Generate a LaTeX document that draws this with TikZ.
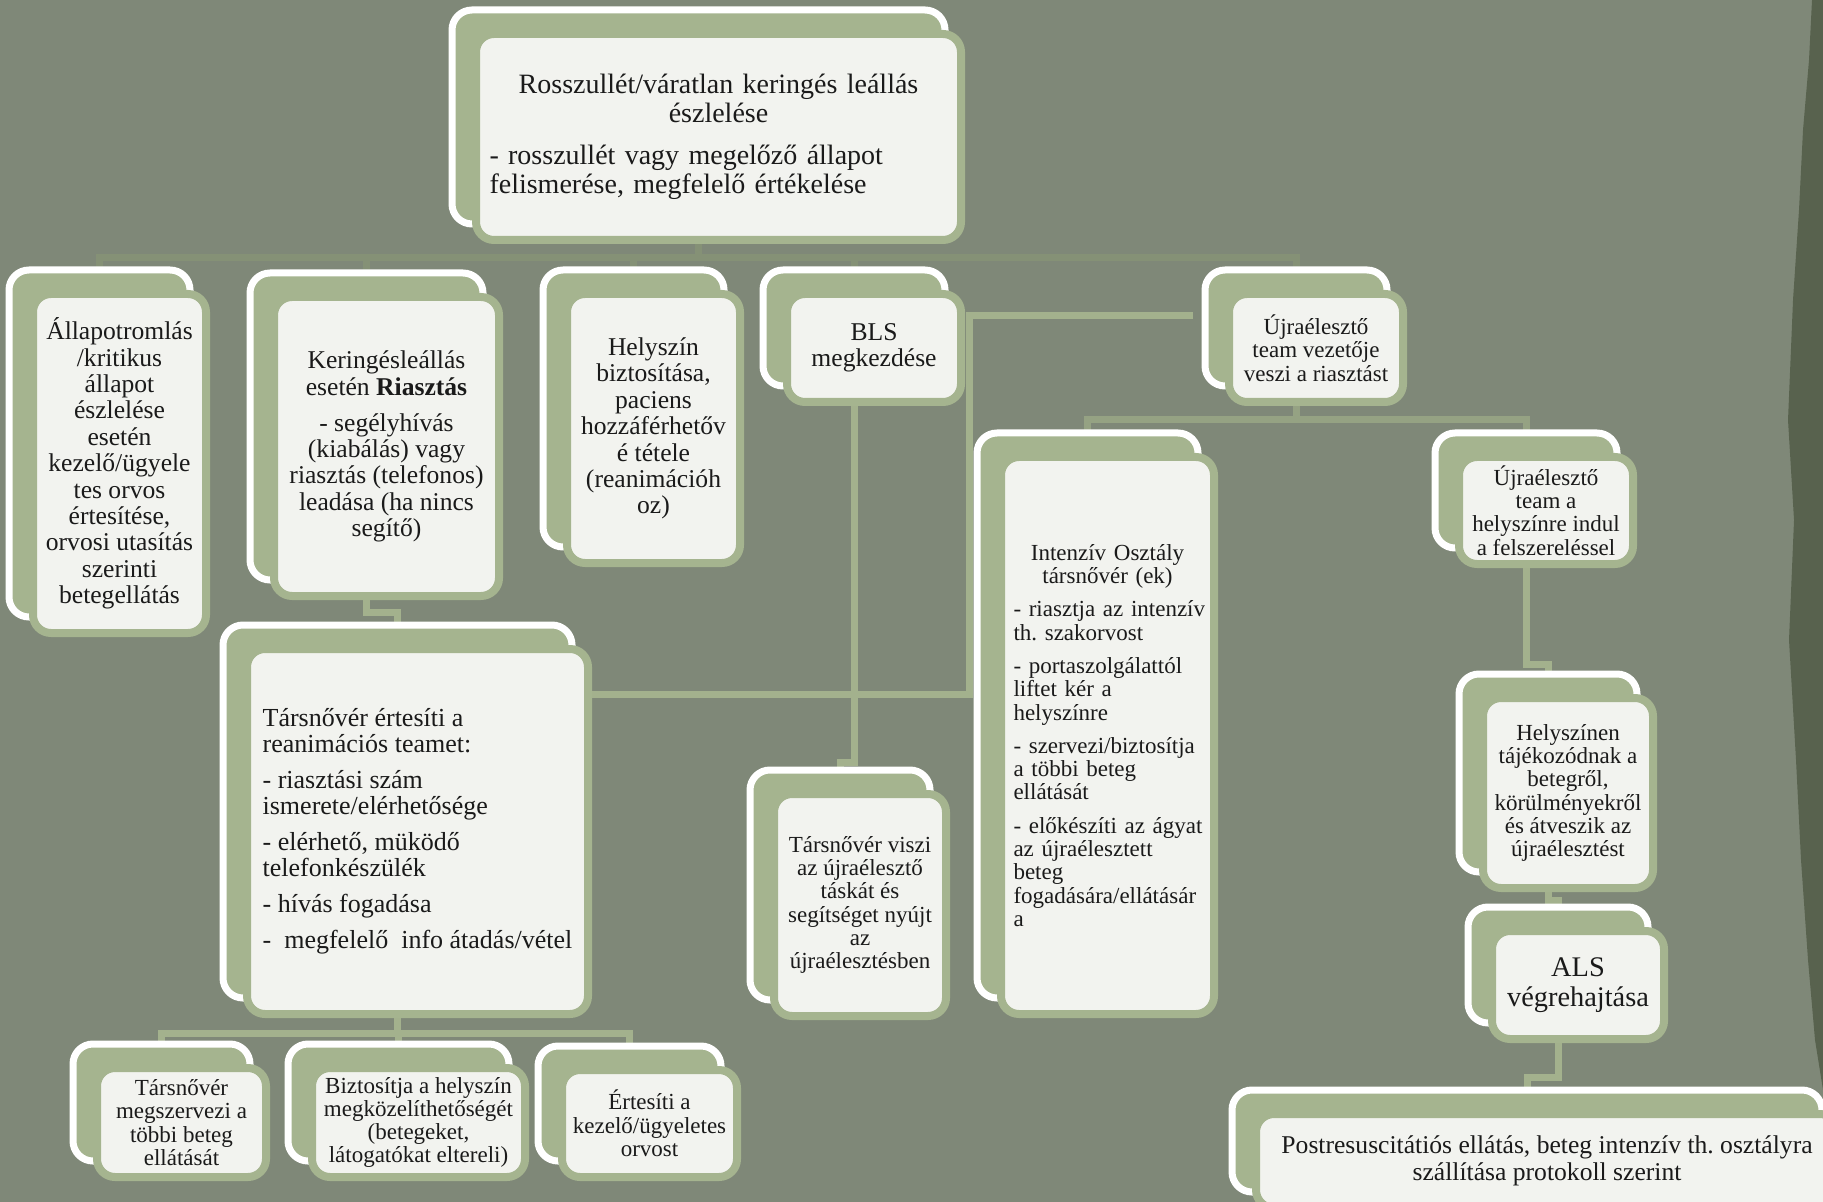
\documentclass[tikz,border=0pt]{standalone}
\usepackage{fontspec}
\setmainfont{Liberation Serif}
\usetikzlibrary{calc}
\pgfdeclarelayer{bgzero}
\pgfdeclarelayer{bgone}
\pgfsetlayers{bgzero,bgone,main}
\definecolor{bgcol}{HTML}{7F8878}
\definecolor{boxgreen}{HTML}{A5B48F}
\definecolor{frontfill}{HTML}{F2F3EF}
\definecolor{lineA}{HTML}{859176}
\definecolor{lineB}{HTML}{95A283}
\definecolor{lineC}{HTML}{A3B18D}
\definecolor{edgedark}{HTML}{58624E}
\definecolor{txt}{HTML}{1A1A1A}
\setlength{\parindent}{0pt}
\hyphenpenalty=10000
\exhyphenpenalty=10000
\frenchspacing
\newcommand\fntT{\fontsize{14}{14.5}\selectfont}
\newcommand\fntM{\fontsize{12.8}{13.2}\selectfont}
\newcommand\fntS{\fontsize{11.5}{11.65}\selectfont}
\newcommand\fntX{\fontsize{14.2}{15}\selectfont}
\newcommand\Ln[1]{\mbox{#1}\par}
\tikzset{
  frontbox/.style={draw=boxgreen, line width=4pt, fill=frontfill, rounded corners=9pt, inner sep=0pt, text=txt},
  backbox/.style={draw=white, line width=3.5pt, fill=boxgreen, rounded corners=10pt},
  connA/.style={draw=lineA, line width=3.5pt},
  connB/.style={draw=lineB, line width=3.5pt},
  connC/.style={draw=lineC, line width=3.5pt},
}
\newcommand\FB[7][]{%
  \node[frontbox,#1, minimum width={(#5-#3-8)*0.5pt}, minimum height={(#6-#4-8)*0.5pt}] (#2) at ({(#3+#5)/2},{(#4+#6)/2}) {#7};
  \begin{pgfonlayer}{bgone}
    \draw[backbox] ($(#2.north west)+(-20,-20)$) rectangle ($(#2.south east)+(-20,-20)$);
  \end{pgfonlayer}
  \coordinate (#2-c) at ($(#2.center)+(-20,-20)$);
}
\begin{document}
\begin{tikzpicture}[x=0.5pt,y=-0.5pt]
\useasboundingbox (0,0) rectangle (1823,1202);
\begin{pgfonlayer}{bgzero}
  \fill[bgcol] (0,0) rectangle (1823,1202);
  \fill[edgedark] (1823,0) -- (1812,0) -- (1809,60) -- (1803,130) -- (1799,210) -- (1793,300) -- (1788,420) -- (1794,520) -- (1789,640) -- (1796,760) -- (1801,860) -- (1808,960) -- (1815,1040) -- (1823,1090) -- cycle;
\end{pgfonlayer}

% top
\FB[text width=229pt, font=\fntT]{top}{472}{30}{965}{244}{{\centering\Ln{Rosszullét/váratlan keringés leállás}\Ln{észlelése}}\vspace{6.5pt}{\raggedright\Ln{- rosszullét vagy megelőző állapot}\Ln{felismerése, megfelelő értékelése}}}

% row 2
\FB[align=center, font=\fntM]{A}{29}{290}{210}{637}{Állapotromlás\\ /kritikus\\ állapot\\ észlelése\\ esetén\\ kezelő/ügyele\\ tes orvos\\ értesítése,\\ orvosi utasítás\\ szerinti\\ betegellátás}
\FB[align=center, font=\fntM]{B}{270}{293}{503}{600}{Keringésleállás\\ esetén \textbf{Riasztás}\\[4.8pt] - segélyhívás\\ (kiabálás) vagy\\ riasztás (telefonos)\\ leadása (ha nincs\\ segítő)}
\FB[align=center, font=\fntM]{C}{563}{290}{744}{567}{Helyszín\\ biztosítása,\\ paciens\\ hozzáférhetőv\\ é tétele\\ (reanimációh\\ oz)}
\FB[align=center, font=\fntM]{D}{783}{290}{965}{406}{BLS\\ megkezdése}
\FB[align=center, font=\fntS]{E}{1225}{290}{1407}{406}{Újraélesztő\\ team vezetője\\ veszi a riasztást}

% right branch
\FB[align=center, font=\fntS]{S7}{1455}{453}{1637}{568}{Újraélesztő\\ team a\\ helyszínre indul\\ a felszereléssel}
\FB[text width=94pt, font=\fntS]{I}{997}{453}{1218}{1018}{{\centering\Ln{Intenzív Osztály}\Ln{társnővér (ek)}}\vspace{5pt}{\raggedright\Ln{- riasztja az intenzív}\Ln{th. szakorvost}\vspace{5pt}\Ln{- portaszolgálattól}\Ln{liftet kér a}\Ln{helyszínre}\vspace{5pt}\Ln{- szervezi/biztosítja}\Ln{a többi beteg}\Ln{ellátását}\vspace{5pt}\Ln{- előkészíti az ágyat}\Ln{az újraélesztett}\Ln{beteg}\Ln{fogadására/ellátásár}\Ln{a}}}
\FB[align=center, font=\fntS]{S12}{1479}{694}{1657}{892}{Helyszínen\\ tájékozódnak a\\ betegről,\\ körülményekről\\ és átveszik az\\ újraélesztést}
\FB[align=center, font=\fntX]{ALS}{1488}{927}{1668}{1043}{ALS\\ végrehajtása}
\FB[align=center, font=\fntM]{POST}{1252}{1110}{1842}{1212}{Postresuscitátiós ellátás, beteg intenzív th. osztályra\\ szállítása protokoll szerint}

% middle
\FB[align=center, font=\fntS]{S9}{770}{790}{950}{1020}{Társnővér viszi\\ az újraélesztő\\ táskát és\\ segítséget nyújt\\ az\\ újraélesztésben}
\FB[align=left, font=\fontsize{13}{13}\selectfont]{T10}{243}{645}{592}{1018}{Társnővér értesíti a\\ reanimációs teamet:\\[5pt] - riasztási szám\\ ismerete/elérhetősége\\[5pt] - elérhető, müködő\\ telefonkészülék\\[5pt] - hívás fogadása\\[5pt] -~~megfelelő~~info átadás/vétel}

% bottom row
\FB[align=center, font=\fntS]{BA}{93}{1064}{270}{1181}{Társnővér\\ megszervezi a\\ többi beteg\\ ellátását}
\FB[align=center, font=\fntS]{BB}{308}{1064}{529}{1181}{Biztosítja a helyszín\\ megközelíthetőségét\\ (betegeket,\\ látogatókat eltereli)}
\FB[align=center, font=\fntS]{BC}{558}{1066}{741}{1181}{Értesíti a\\ kezelő/ügyeletes\\ orvost}

% connectors
\begin{pgfonlayer}{bgzero}
  \coordinate (h1) at (0,258);
  \coordinate (h2) at (0,420);
  \coordinate (h3) at (0,762);
  \coordinate (h4) at (0,612);
  \coordinate (h5) at (0,1033);
  \coordinate (h6) at (0,664);
  \coordinate (h7) at (0,900);
  \coordinate (h8) at (0,1077);
  \coordinate (eL) at (1193,316);
  \coordinate (j1) at (969,694);
  \draw[connA] (top-c) -- (top-c |- h1);
  \draw[connA] (A-c) -- (A-c |- h1) -- (E-c |- h1) -- (E-c);
  \foreach \n in {B,C,D} \draw[connA] (\n-c |- h1) -- (\n-c);
  \draw[connB] (E-c) -- (E-c |- h2);
  \draw[connB] (I-c) -- (I-c |- h2) -- (S7-c |- h2) -- (S7-c);
  \draw[connC] (D-c) -- (D-c |- h3) -- (S9-c |- h3) -- (S9-c);
  \draw[connC] (B-c) -- (B-c |- h4) -- (T10-c |- h4) -- (T10-c);
  \draw[connC] (T10-c) -- (T10-c |- h5);
  \draw[connC] (BA-c) -- (BA-c |- h5) -- (BC-c |- h5) -- (BC-c);
  \draw[connC] (BB-c |- h5) -- (BB-c);
  \draw[connC] (S7-c) -- (S7-c |- h6) -- (S12-c |- h6) -- (S12-c);
  \draw[connC] (S12-c) -- (S12-c |- h7) -- (ALS-c |- h7) -- (ALS-c);
  \draw[connC] (ALS-c) -- (ALS-c |- h8) -- (POST-c |- h8) -- (POST-c);
  \draw[connC] (eL) -- (eL -| j1) -- (j1) -- (j1 -| T10.east);
\end{pgfonlayer}
\end{tikzpicture}
\end{document}
